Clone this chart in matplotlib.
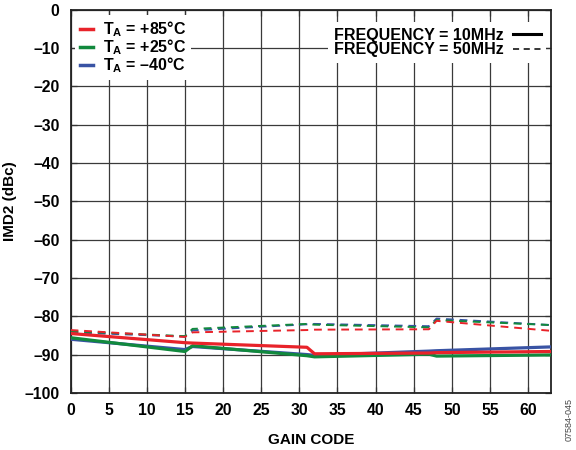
import matplotlib

matplotlib.use("Agg")
import matplotlib.pyplot as plt
from matplotlib.lines import Line2D

plt.rcParams.update({
    "font.family": "Liberation Sans",
    "font.weight": "bold",
    "axes.labelweight": "bold",
    "mathtext.fontset": "custom",
    "mathtext.rm": "Liberation Sans:bold",
    "mathtext.bf": "Liberation Sans:bold",
    "mathtext.it": "Liberation Sans:bold",
})

# gain code breakpoints shared by all traces
gain_code = [0, 15, 16, 31, 32, 47, 48, 63]

# 10 MHz (solid)
red_10 = [-84.5, -86.9, -87.0, -88.1, -89.8, -89.6, -89.5, -89.2]
green_10 = [-85.6, -89.2, -87.7, -90.3, -90.6, -89.9, -90.4, -90.1]
blue_10 = [-86.0, -88.7, -87.9, -90.0, -90.2, -89.1, -89.0, -88.0]

# 50 MHz (dashed)
red_50 = [-83.6, -85.4, -84.2, -83.6, -83.5, -83.4, -81.2, -83.8]
green_50 = [-83.9, -85.2, -83.3, -82.0, -82.2, -82.9, -81.0, -82.3]
blue_50 = [-84.2, -85.3, -83.7, -82.1, -82.0, -82.6, -80.6, -82.3]

temp_labels = ["$\\mathregular{T_A}$ = +85°C",
               "$\\mathregular{T_A}$ = +25°C",
               "$\\mathregular{T_A}$ = \u201340°C"]
freq_labels = ["FREQUENCY = 10MHz", "FREQUENCY = 50MHz"]

RED = "#e8232a"
GREEN = "#11893d"
BLUE = "#3953a4"

fig = plt.figure(figsize=(5.76, 4.5), dpi=100)
ax = fig.add_axes([0.1225, 0.127, 0.834, 0.851])

dash = (0, (4, 3))
ax.plot(gain_code, blue_50, color=BLUE, lw=1.4, linestyle=dash, zorder=3)
ax.plot(gain_code, green_50, color=GREEN, lw=1.4, linestyle=dash, zorder=3)
ax.plot(gain_code, red_50, color=RED, lw=1.4, linestyle=dash, zorder=3)
ax.plot(gain_code, blue_10, color=BLUE, lw=2.3, zorder=4)
ax.plot(gain_code, green_10, color=GREEN, lw=2.3, zorder=4)
ax.plot(gain_code, red_10, color=RED, lw=2.3, zorder=4)

ax.set_xlim(0, 63)
ax.set_ylim(-100, 0)
ax.set_xticks(range(0, 61, 5))
ax.set_yticks(range(-100, 1, 10))
ax.set_yticklabels([str(v).replace("-", "\u2013") for v in range(-100, 1, 10)])
ax.tick_params(labelsize=11.3, direction="in", length=4, width=0.9,
               top=True, right=True, color="#333333")
ax.tick_params(axis="x", pad=7)
ax.tick_params(axis="y", pad=8)
ax.grid(True, color="#3a3a3a", lw=0.9)
ax.set_axisbelow(True)
for s in ax.spines.values():
    s.set_linewidth(1.3)
    s.set_color("#222222")

ax.set_xlabel("GAIN CODE", fontsize=11, labelpad=11)
ax.set_ylabel("IMD2 (dBc)", fontsize=11, labelpad=5)

temp_handles = [Line2D([], [], color=c, lw=2.5) for c in (RED, GREEN, BLUE)]
leg1 = ax.legend(temp_handles, temp_labels, loc="upper left", bbox_to_anchor=(0.0, 1.0),
                 fontsize=11.5, handlelength=0.8, handletextpad=0.6, labelspacing=-0.1,
                 frameon=True, framealpha=1, edgecolor="none", fancybox=False,
                 borderpad=0.3, borderaxespad=0.3)
leg1.set_zorder(5)
ax.add_artist(leg1)

freq_handles = [Line2D([], [], color="black", lw=2.2),
                Line2D([], [], color="black", lw=1.1, linestyle=(0, (4, 3)))]
leg2 = ax.legend(freq_handles, freq_labels, loc="upper right", bbox_to_anchor=(1.0, 0.98),
                 fontsize=11.5, handlelength=1.7, handletextpad=0.6, labelspacing=-0.05,
                 markerfirst=False, frameon=True, framealpha=1, edgecolor="none",
                 fancybox=False, borderpad=0.35, borderaxespad=0.3)
leg2.set_zorder(5)

fig.text(0.988, 0.02, "07584-045", rotation=90, fontsize=6.5, fontweight="normal",
         color="#444444", ha="center", va="bottom")

fig.savefig("out.png", dpi=100)
